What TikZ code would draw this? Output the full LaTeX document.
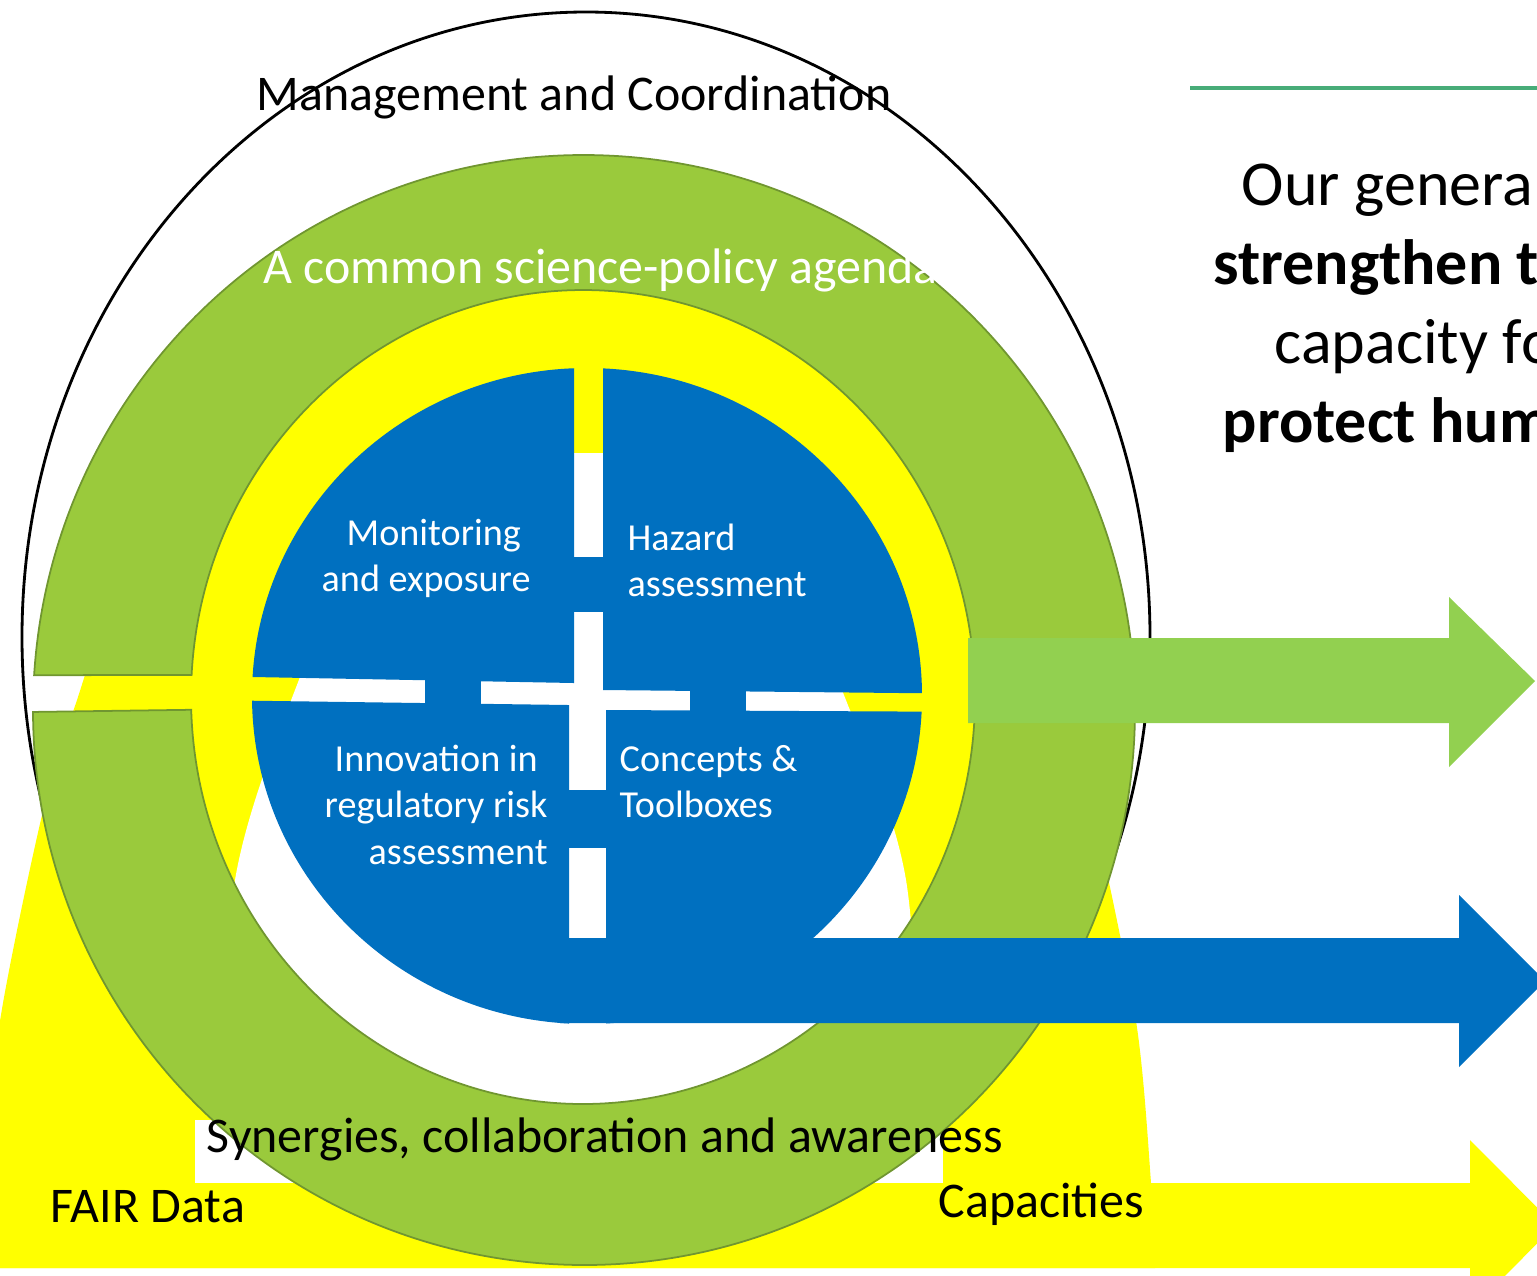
\documentclass[tikz,border=0pt]{standalone}
\usepackage{fontspec}
\setmainfont{Carlito}
\usepackage{tikz}

\definecolor{archyellow}{RGB}{255,255,0}
\definecolor{ringgreen}{RGB}{154,202,60}
\definecolor{ringedge}{RGB}{112,150,48}
\definecolor{arrowgreen}{RGB}{146,208,80}
\definecolor{coreblue}{RGB}{0,112,192}
\definecolor{lineteal}{RGB}{72,172,120}

\tikzset{
  biglabel/.style={inner sep=0pt, anchor=base west, font=\fontsize{14.2}{17}\selectfont},
  corelabel/.style={inner sep=0pt, anchor=base west, text=white, font=\fontsize{10.85}{13.2}\selectfont},
  goallabel/.style={inner sep=0pt, anchor=base west, font=\fontsize{18.2}{22.5}\selectfont},
}

\begin{document}
\begin{tikzpicture}[x=0.01cm, y=-0.01cm]
      \useasboundingbox (0,0) rectangle (1537,1275);
      \clip (0,0) rectangle (1537,1275);

      % frame
      \draw[line width=0.8pt] (586,637) ellipse [x radius=564, y radius=625];

      % yellow arch and its white inside
      \fill[archyellow] plot[smooth] coordinates {(-20,1268) (-15,1183) (0,1021) (43,811) (77,700) (120,580) (220,400) (380,260) (568,215) (756,260) (916,400) (1016,580) (1059,700) (1093,811) (1136,1021) (1151,1183) (1155,1268)} -- cycle;
      \fill[white] plot[smooth] coordinates {(215,1183) (235,880) (300,677) (372,520) (460,462) (570,453) (680,462) (768,520) (842,690) (906,880) (925,1183)} -- cycle;
      \fill[archyellow] (-5,1183) -- (1470,1183) -- (1470,1140) -- (1555,1225.5) -- (1470,1311) -- (1470,1268) -- (-5,1268) -- cycle;
      \fill[white] (195,1120) rectangle (943,1183);

      % green ring
      \filldraw[fill=ringgreen, draw=ringedge, line width=0.5pt] (584,710) ++(183.6:551 and 555)
        arc[start angle=183.6, end angle=539.8, x radius=551, y radius=555]
        -- ([shift={(583,697)}]538.2:392 and 407)
        arc[start angle=538.2, end angle=183.1, x radius=392, y radius=407] -- cycle;

      % blue core, four parts
      \begin{scope}
        \clip (200,300) -- (574,300) -- (574,683) -- (200,676) -- cycle;
        \fill[coreblue] (587,696) ellipse [x radius=335, y radius=328];
      \end{scope}
      \begin{scope}
        \clip (603,300) -- (1000,300) -- (1000,694) -- (603,690) -- cycle;
        \fill[coreblue] (587,696) ellipse [x radius=335, y radius=328];
      \end{scope}
      \begin{scope}
        \clip (200,700) -- (569,705) -- (569,1100) -- (200,1100) -- cycle;
        \fill[coreblue] (587,696) ellipse [x radius=335, y radius=328];
      \end{scope}
      \begin{scope}
        \clip (606,710) -- (1000,712) -- (1000,1100) -- (606,1100) -- cycle;
        \fill[coreblue] (587,696) ellipse [x radius=335, y radius=328];
      \end{scope}
      \fill[coreblue] (425,674) rectangle (481,707);
      \fill[coreblue] (690,686) rectangle (746,714);
      \fill[coreblue] (570,557) rectangle (607,612);
      \fill[coreblue] (565,790) rectangle (609,848);

      % arrows
      \fill[coreblue] (560,938) -- (1459,938) -- (1459,895) -- (1545,981) -- (1459,1067) -- (1459,1023) -- (560,1023) -- cycle;
      \fill[arrowgreen] (968,638) -- (1449,638) -- (1449,597) -- (1535,681) -- (1449,767) -- (1449,723) -- (968,723) -- cycle;
      \draw[lineteal, line width=0.9pt] (1190,88) -- (1537,88);

      % labels
      \node[biglabel] (mgmt) at (256,110) {Management and Coordination};
      \node[biglabel, text=white] (agenda) at (263,283) {A common science-policy agenda};
      \node[biglabel] (synergy) at (206,1152) {Synergies, collaboration and awareness};
      \node[biglabel] (fair) at (50,1222) {FAIR Data};
      \node[biglabel] (capac) at (938,1217) {Capacities};

      \node[corelabel] (mon1) at (346,545) {Monitoring};
      \node[corelabel] (mon2) at (321,591) {and exposure};
      \node[corelabel] (haz1) at (627,550) {Hazard};
      \node[corelabel] (haz2) at (627,596) {assessment};
      \node[corelabel] (inn1) at (334,771) {Innovation in};
      \node[corelabel] (inn2) at (324,817) {regulatory risk};
      \node[corelabel] (inn3) at (368,864) {assessment};
      \node[corelabel] (con1) at (619,771) {Concepts \&};
      \node[corelabel] (con2) at (619,817) {Toolboxes};

      \node[goallabel] (goal1) at (1241,205) {Our genera};
      \node[goallabel, font=\fontsize{18.2}{22.5}\selectfont\bfseries] (goal2) at (1213,284) {strengthen t};
      \node[goallabel] (goal3) at (1274,363) {capacity fo};
      \node[goallabel, font=\fontsize{18.2}{22.5}\selectfont\bfseries] (goal4) at (1222,442) {protect hum};
    \end{tikzpicture}
\end{document}
